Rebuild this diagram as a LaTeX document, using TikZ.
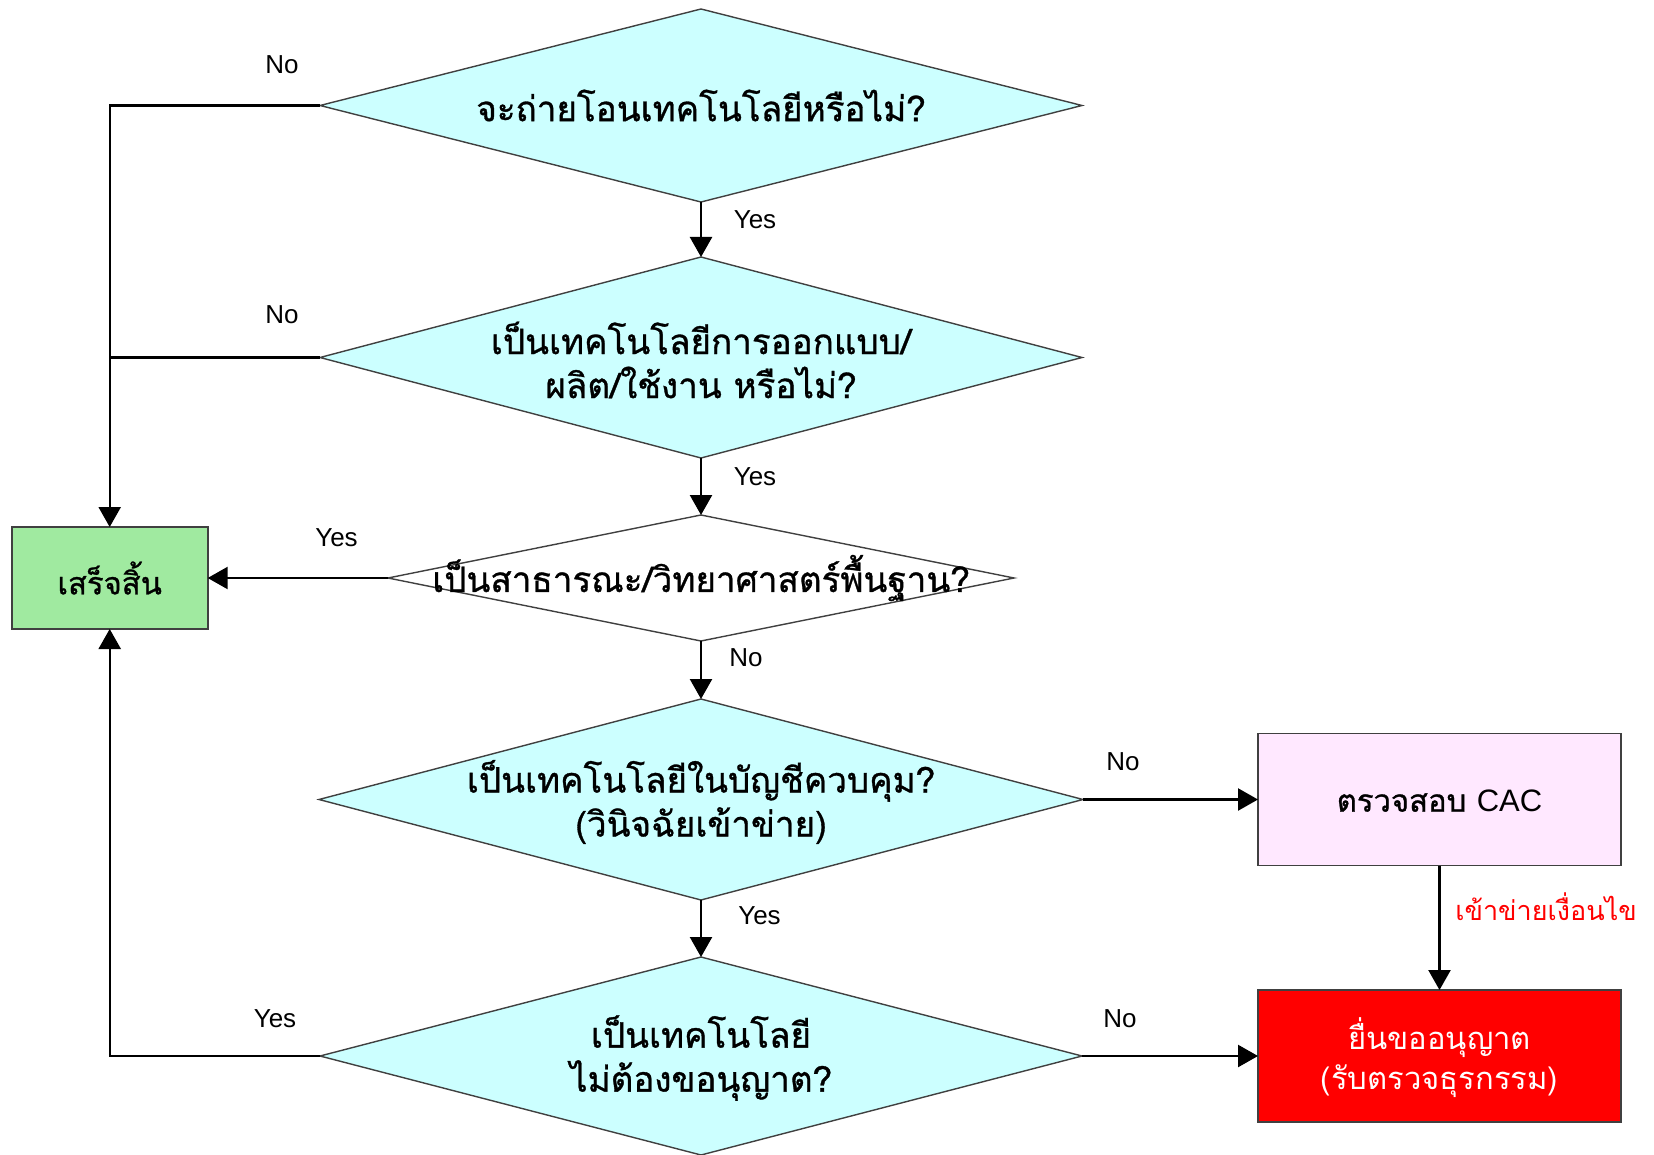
\documentclass[tikz,border=0pt]{standalone}
\usepackage{fontspec}
\setmainfont{Liberation Sans}
\newfontfamily\thaifont[Script=Thai,FakeBold=0.9]{Loma}
\newfontfamily\thaiplain[Script=Thai]{Loma}
\usepackage{tikz}
\usetikzlibrary{shapes.geometric,arrows.meta}
\definecolor{qcyan}{RGB}{204,255,255}
\definecolor{donegreen}{RGB}{160,234,160}
\definecolor{cacpink}{RGB}{255,232,255}
\definecolor{edgegray}{RGB}{64,64,64}

\begin{document}
\begin{tikzpicture}[x=0.5pt,y=-0.5pt,>={Triangle[length=10pt,width=11pt]},
  dia/.style={diamond,draw=edgegray,line width=0.7pt,fill=qcyan,inner sep=0pt,outer sep=0pt},
  box/.style={rectangle,draw=edgegray,line width=0.9pt,inner sep=0pt,outer sep=0pt},
  qtext/.style={font=\thaifont\fontsize{17.5}{22}\selectfont,align=center},
  yn/.style={font=\fontsize{13}{15}\selectfont},
  conn/.style={line width=1.2pt}]
\useasboundingbox (0,0) rectangle (1654,1155);

\node[dia,minimum width=381pt,minimum height=96.5pt] (q1) at (701,105.5) {};
\node[dia,minimum width=381pt,minimum height=100.5pt] (q2) at (701,357.5) {};
\node[dia,fill=white,minimum width=313pt,minimum height=63pt] (q3) at (701,578) {};
\node[dia,minimum width=382pt,minimum height=100.5pt] (q4) at (701,799.5) {};
\node[dia,minimum width=381pt,minimum height=99pt] (q5) at (701,1056) {};

\node[qtext] (t1) at (q1) {จะถ่ายโอนเทคโนโลยีหรือไม่?};
\node[qtext] (t2) at (701,360) {เป็นเทคโนโลยีการออกแบบ/\\ผลิต/ใช้งาน หรือไม่?};
\node[qtext] (t3) at (q3) {เป็นสาธารณะ/วิทยาศาสตร์พื้นฐาน?};
\node[qtext] (t4) at (701,802) {เป็นเทคโนโลยีในบัญชีควบคุม?\\(วินิจฉัยเข้าข่าย)};
\node[qtext] (t5) at (701,1058) {เป็นเทคโนโลยี\\ไม่ต้องขอนุญาต?};

\node[box,fill=donegreen,minimum width=98pt,minimum height=51pt] (done) at (109.7,578) {};
\node[qtext,font=\thaifont\fontsize{15.5}{20}\selectfont] at (done) {เสร็จสิ้น};
\node[box,fill=cacpink,minimum width=181.5pt,minimum height=66pt] (cac) at (1439.5,799.5) {};
\node[qtext,font=\thaifont\fontsize{15.5}{20}\selectfont] at (1439.5,801) {ตรวจสอบ {\fontspec{Liberation Sans}CAC}};
\node[box,fill=red,minimum width=181.5pt,minimum height=66pt] (permit) at (1439.5,1056) {};
\node[qtext,text=white,font=\thaiplain\fontsize{15.5}{20}\selectfont] at (1439.5,1058) {ยื่นขออนุญาต\\(รับตรวจธุรกรรม)};

\draw[conn,->] (q1.west) -| (done.north);
\draw[conn] (q2.west) -- (q2.west -| done.north);
\draw[conn,->] (q1.south) -- (q2.north);
\draw[conn,->] (q2.south) -- (q3.north);
\draw[conn,->] (q3.west) -- (done.east);
\draw[conn,->] (q3.south) -- (q4.north);
\draw[conn,->] (q4.east) -- (cac.west);
\draw[conn,->] (cac.south) -- (permit.north);
\draw[conn,->] (q4.south) -- (q5.north);
\draw[conn,->] (q5.east) -- (permit.west);
\draw[conn,->] (q5.west) -| (done.south);

\node[yn] (n1) at (282,65) {No};
\node[yn] (y1) at (755,220) {Yes};
\node[yn] (n2) at (282,315) {No};
\node[yn] (y2) at (755,477) {Yes};
\node[yn] (y3) at (336.5,538) {Yes};
\node[yn] (n3) at (746,658) {No};
\node[yn] (n4) at (1123,762) {No};
\node[yn] (y4) at (759.5,915.5) {Yes};
\node[yn] (y5) at (275,1019) {Yes};
\node[yn] (n5) at (1120,1019) {No};
\node[text=red,font=\thaiplain\fontsize{13.5}{16}\selectfont] (cond) at (1546,907) {เข้าข่ายเงื่อนไข};
\end{tikzpicture}
\end{document}
